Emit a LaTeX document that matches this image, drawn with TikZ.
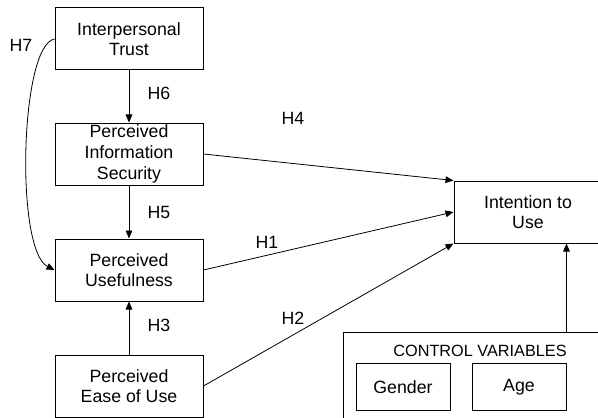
\documentclass[tikz,border=0pt]{standalone}
\usepackage{fontspec}
\setmainfont{Liberation Sans}
\usetikzlibrary{arrows.meta}

\tikzset{
  construct/.style={draw, line width=0.75pt, align=center, minimum width=111pt, minimum height=46.5pt, inner sep=0pt},
  smallbox/.style={draw, line width=0.75pt, minimum width=70.5pt, minimum height=35pt, inner sep=0pt},
  hyp/.style={-{Triangle[length=6pt,width=5pt]}, line width=0.6pt},
  hlabel/.style={inner sep=0pt}
}

\begin{document}
\begin{tikzpicture}[x=0.75pt, y=-0.75pt, font=\fontsize{13.3}{15.5}\selectfont]
\useasboundingbox (0,0) rectangle (598,417);

%boxes
\node[construct] (trust) at (129,39) {Interpersonal\\Trust};
\node[construct] (sec) at (129,154) {Perceived\\Information\\Security};
\node[construct] (use) at (129,270) {Perceived\\Usefulness};
\node[construct] (ease) at (129,386) {Perceived\\Ease of Use};
\node[construct] (intent) at (528,212) {Intention to\\Use};

%control variables
\node[draw, line width=0.75pt, minimum width=205.5pt, minimum height=75pt] (ctrl) at (480,382) {};
\node[font=\fontsize{12.2}{14}\selectfont] (ctrltext) at (480,351) {CONTROL VARIABLES};
\node[smallbox] (gender) at (403,387) {Gender};
\node[smallbox] (age) at (519,387) {Age};

%hypotheses
\draw[hyp] (trust) -- (sec);
\draw[hyp] (sec) -- (use);
\draw[hyp] (ease) -- (use);
\draw[hyp] (sec.east) -- (intent.north west);
\draw[hyp] (use.east) -- (intent.west);
\draw[hyp] (ease.east) -- (intent.south west);
\draw[hyp] (trust.west) .. controls (20,45) and (15,250) .. (use.west);
\draw[hyp] (ctrl.north -| age.east) -- (intent.south -| age.east);

\node[hlabel] (h6) at (159,93) {H6};
\node[hlabel] (h5) at (159,212) {H5};
\node[hlabel] (h3) at (159,325) {H3};
\node[hlabel] (h4) at (293,118) {H4};
\node[hlabel] (h1) at (267,242) {H1};
\node[hlabel] (h2) at (293,318) {H2};
\node[hlabel] (h7) at (21,45) {H7};

\end{tikzpicture}
\end{document}
